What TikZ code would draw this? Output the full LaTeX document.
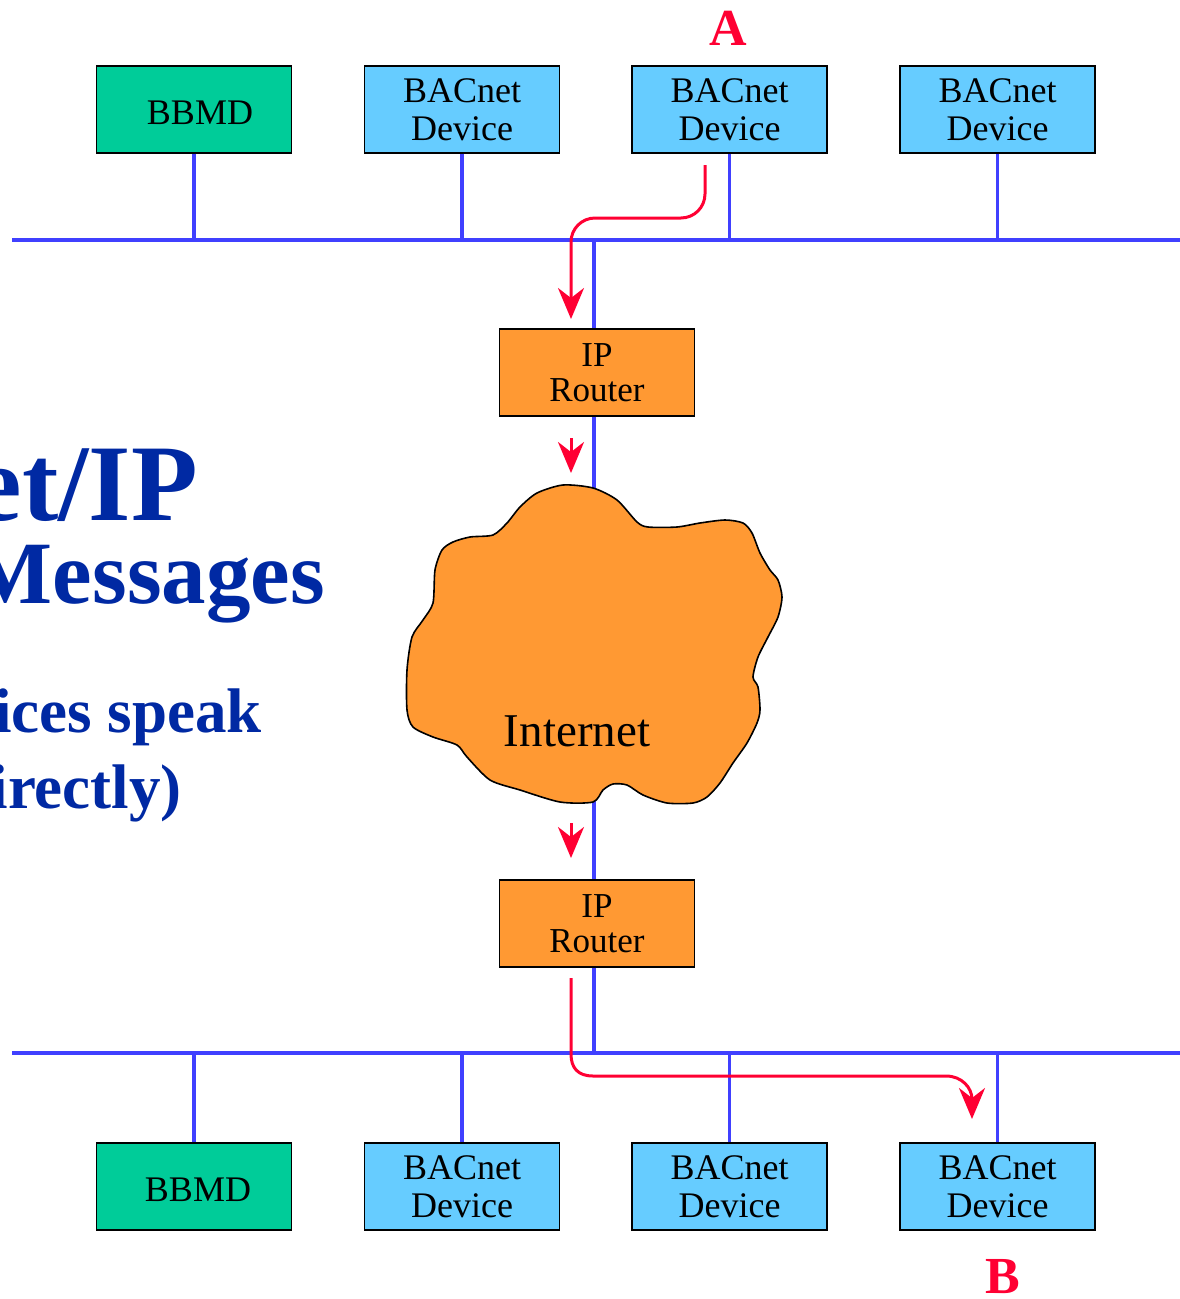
\documentclass[tikz,border=0pt]{standalone}
\usepackage{fontspec}
\setmainfont{Liberation Serif}
\usetikzlibrary{arrows.meta}
\definecolor{busblue}{RGB}{64,64,255}
\definecolor{msgred}{RGB}{255,0,51}
\definecolor{bbmdgreen}{RGB}{0,204,153}
\definecolor{devblue}{RGB}{102,204,255}
\definecolor{routerorange}{RGB}{255,153,51}
\definecolor{titleblue}{RGB}{0,41,163}
\tikzset{
  unitbox/.style={draw=black, line width=1.3pt, minimum width=195pt, minimum height=87pt, inner sep=0pt, align=center, font=\fontsize{36}{38}\selectfont},
  bbmdbox/.style={unitbox, fill=bbmdgreen},
  devbox/.style={unitbox, fill=devblue},
  boxtext/.style={inner sep=0pt, font=\fontsize{36}{38}\selectfont},
  routerbox/.style={unitbox, fill=routerorange, font=\fontsize{35}{35}\selectfont},
  busline/.style={draw=busblue, line width=3.2pt},
  msgarrow/.style={draw=msgred, line width=3pt, -{Stealth[length=31pt, width=26pt, inset=10pt]}},
  titletext/.style={text=titleblue, font=\bfseries, inner sep=0pt, anchor=base east},
  endlabel/.style={text=msgred, font=\fontsize{52}{52}\selectfont\bfseries, inner sep=0pt}
}
\begin{document}
\begin{tikzpicture}[x=1pt, y=-1pt]
\useasboundingbox (0,0) rectangle (1180,1299);

% buses
\coordinate (busTL) at (12,240);
\coordinate (busTR) at (1180,240);
\coordinate (busBL) at (12,1053);
\coordinate (busBR) at (1180,1053);
\draw[busline] (busTL) -- (busTR);
\draw[busline] (busBL) -- (busBR);

% top row
\node[bbmdbox] (t1) at (194,109.5) {};
\node[boxtext] (t1txt) at (200,113) {BBMD};
\node[devbox] (t2) at (462,109.5) {BACnet\\Device};
\node[devbox] (t3) at (729.5,109.5) {BACnet\\Device};
\node[devbox] (t4) at (997.5,109.5) {BACnet\\Device};

% bottom row
\node[bbmdbox] (b1) at (194,1186.5) {};
\node[boxtext] (b1txt) at (198,1190) {BBMD};
\node[devbox] (b2) at (462,1186.5) {BACnet\\Device};
\node[devbox] (b3) at (729.5,1186.5) {BACnet\\Device};
\node[devbox] (b4) at (997.5,1186.5) {BACnet\\Device};

% routers
\node[routerbox] (r1) at (597,372.5) {IP\\Router};
\node[routerbox] (r2) at (597,923.5) {IP\\Router};

% drops
\foreach \n in {t1,t2,t3,t4}{
  \draw[busline] (\n.south) -- (\n.south |- busTL);
}
\foreach \n in {b1,b2,b3,b4}{
  \draw[busline] (\n.north) -- (\n.north |- busBL);
}

% cloud
\coordinate (cloudtop) at (594,488);
\coordinate (cloudbot) at (594,801);
\draw[busline] (594,240) -- (r1.north -| cloudtop);
\draw[busline] (r1.south -| cloudtop) -- (cloudtop);
\draw[busline] (cloudbot) -- (r2.north -| cloudbot);
\draw[busline] (r2.south -| cloudbot) -- (594,1053);

\filldraw[fill=routerorange, draw=black, line width=1.6pt]
 plot[smooth cycle, tension=0.45] coordinates {
 (563,485) (593,488) (617,500) (637,522) (648,527) (677,527) (700,523) (725,520)
 (743,523) (752,533) (760,553) (770,570) (778,580) (782,597) (778,617) (768,637)
 (758,657) (753,677) (758,687) (760,710) (757,723) (747,743) (733,763) (720,783)
 (707,797) (693,803) (667,803) (643,795) (627,785) (613,784) (603,790) (593,802)
 (560,802) (520,790) (490,780) (467,757) (457,745) (433,737) (413,727) (407,710)
 (407,670) (412,637) (423,620) (433,603) (435,570) (442,550) (453,542) (470,537)
 (493,535) (507,523) (520,507) (537,493)};
\node[font=\fontsize{47}{47}\selectfont, inner sep=0pt] (inet) at (577,731) {Internet};

% message arrows
\coordinate (m1s) at (705,165);
\coordinate (m1e) at (571,319);
\draw[msgarrow, rounded corners=24pt] (m1s) -- (705,218) -- (571,218) -- (m1e);
\coordinate (m2s) at (571,438);
\coordinate (m2e) at (571,473);
\draw[msgarrow] (m2s) -- (m2e);
\coordinate (m3s) at (571,823);
\coordinate (m3e) at (571,858);
\draw[msgarrow] (m3s) -- (m3e);
\coordinate (m4s) at (571,978);
\coordinate (m4e) at (972,1119);
\draw[msgarrow] (m4s) -- (571,1054) .. controls (571,1068) and (578,1076) .. (593,1076)
  -- (946,1076) .. controls (962,1076) and (972,1088) .. (m4e);

% labels
\node[endlabel] (labA) at (728,28) {A};
\node[endlabel] (labB) at (1003,1277) {B};

% title text (clipped at left edge)
\node[titletext, font=\fontsize{109}{109}\selectfont\bfseries] (ttl1) at (198,520) {et/IP};
\node[titletext, font=\fontsize{89}{89}\selectfont\bfseries] (ttl2) at (325,603) {Messages};
\node[titletext, font=\fontsize{63}{63}\selectfont\bfseries] (ttl3) at (262,732) {ices speak};
\node[titletext, font=\fontsize{63}{63}\selectfont\bfseries] (ttl4) at (182,808) {irectly)};
\end{tikzpicture}
\end{document}
